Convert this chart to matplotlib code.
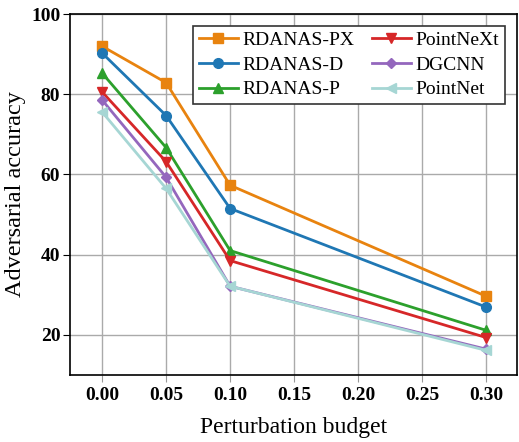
import matplotlib.pyplot as plt

plt.rcParams['font.family'] = ['Liberation Serif', 'DejaVu Serif']

budgets = [0.00, 0.05, 0.10, 0.30]

rdanas_px = [92.0, 82.9, 57.3, 29.6]
rdanas_d = [90.3, 74.7, 51.5, 26.9]
rdanas_p = [85.3, 66.7, 41.0, 21.1]
pointnext = [80.6, 63.2, 38.5, 19.3]
dgcnn = [78.6, 59.3, 32.1, 16.4]
pointnet = [75.6, 56.5, 32.1, 16.1]

names = ['RDANAS-PX', 'RDANAS-D', 'RDANAS-P', 'PointNeXt', 'DGCNN', 'PointNet']
series = [rdanas_px, rdanas_d, rdanas_p, pointnext, dgcnn, pointnet]
colors = ['#e8830f', '#1f77b4', '#2ca02c', '#d62728', '#9467bd', '#a6d6d4']
markers = ['s', 'o', '^', 'v', 'D', '<']

fig = plt.figure(figsize=(5.19, 4.42), dpi=100)
ax = fig.add_axes([0.135, 0.152, 0.861, 0.816])

for name, vals, c, m in zip(names, series, colors, markers):
    ms = 5.5 if m == 'D' else 7
    ax.plot(budgets, vals, color=c, marker=m, markersize=ms, linewidth=2, label=name)

ax.set_xlim(-0.025, 0.324)
ax.set_ylim(10, 100)
ax.set_xticks([0.00, 0.05, 0.10, 0.15, 0.20, 0.25, 0.30])
ax.set_yticks([20, 40, 60, 80, 100])
ax.set_xticklabels(['0.00', '0.05', '0.10', '0.15', '0.20', '0.25', '0.30'])
for lab in ax.get_xticklabels() + ax.get_yticklabels():
    lab.set_fontweight('bold')
    lab.set_fontsize(14)
ax.tick_params(axis='x', length=5, color='#999999', pad=4)
ax.tick_params(axis='y', length=5, color='black', pad=2)

ax.grid(True, color='#aaaaaa', linewidth=1)
ax.set_axisbelow(True)
for s in ax.spines.values():
    s.set_color('black')
    s.set_linewidth(1.2)

ax.set_xlabel('Perturbation budget', fontsize=17, labelpad=9)
ax.set_ylabel('Adversarial accuracy', fontsize=17.5, labelpad=4)

leg = ax.legend(ncol=2, loc='upper right', fontsize=14, frameon=True, fancybox=False,
                edgecolor='#333333', framealpha=1, handlelength=2.0,
                columnspacing=0.9, handletextpad=0.25, labelspacing=0.36,
                borderaxespad=0.6, borderpad=0.3)
leg.get_frame().set_linewidth(1.2)

fig.savefig('out.png', dpi=100)
